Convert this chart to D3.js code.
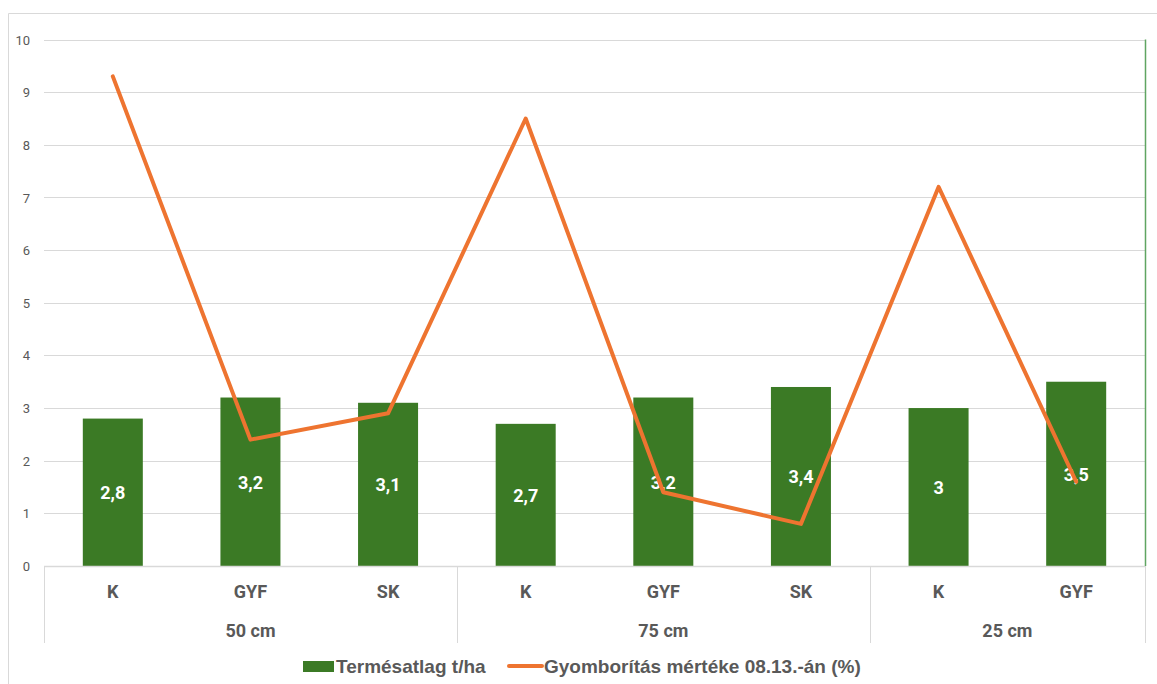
<!DOCTYPE html>
<html>
<head>
<meta charset="utf-8">
<script src="https://cdn.jsdelivr.net/npm/d3@7/dist/d3.min.js"></script>
<style>
  html, body { margin: 0; padding: 0; background: #fff; }
  svg { display: block; }
</style>
</head>
<body>
<svg id="chart" width="1157" height="684"></svg>
<script>
// Treatment categories along the x axis, grouped by row spacing
const categories = ["K", "GYF", "SK", "K", "GYF", "SK", "K", "GYF"];
const groups = ["50 cm", "75 cm", "25 cm"];
const groupSizes = [3, 3, 2];

// Series
const yieldValues = [2.8, 3.2, 3.1, 2.7, 3.2, 3.4, 3, 3.5];   // Termésatlag t/ha
const coverValues = [9.3, 2.4, 2.9, 8.5, 1.4, 0.8, 7.2, 1.6]; // Gyomborítás %
const yTicks = [0, 1, 2, 3, 4, 5, 6, 7, 8, 9, 10];

const seriesNames = ["Termésatlag t/ha", "Gyomborítás mértéke 08.13.-án (%)"];

const W = 1157, H = 684;
const plot = { left: 44, right: 1145, top: 39.5, bottom: 566 };

const barColor = "#3B7A25";
const lineColor = "#EE7430";
const gridColor = "#D9D9D9";
const textColor = "#595959";
const font = "Roboto, 'Liberation Sans', Arial, sans-serif";

const svg = d3.select("#chart");

// chart frame
svg.append("line").attr("x1", 8.5).attr("x2", W).attr("y1", 13.5).attr("y2", 13.5)
  .attr("stroke", gridColor).attr("stroke-width", 1);
svg.append("line").attr("x1", 8.5).attr("x2", 8.5).attr("y1", 13.5).attr("y2", H)
  .attr("stroke", gridColor).attr("stroke-width", 1);

const idx = categories.map((d, i) => i);
const x = d3.scaleBand().domain(idx).range([plot.left, plot.right])
  .paddingInner(0.564).paddingOuter(0.282);
const y = d3.scaleLinear().domain([0, 10]).range([plot.bottom, plot.top]);

// horizontal gridlines
svg.append("g").selectAll("line").data(yTicks.filter(d => d > 0)).join("line")
  .attr("x1", plot.left).attr("x2", plot.right)
  .attr("y1", d => Math.round(y(d)) + 0.5).attr("y2", d => Math.round(y(d)) + 0.5)
  .attr("stroke", gridColor).attr("stroke-width", 1);

// y axis labels
const yAxis = d3.axisLeft(y).tickValues(yTicks).tickSize(0).tickPadding(0)
  .tickFormat(d3.format("d"));
const yg = svg.append("g").attr("transform", `translate(${plot.left - 14},0)`).call(yAxis);
yg.select(".domain").remove();
yg.selectAll("text").attr("fill", textColor).attr("font-family", font)
  .attr("font-size", 13).attr("dy", "0.35em");

// bars
svg.append("g").selectAll("rect").data(yieldValues).join("rect")
  .attr("x", (d, i) => x(i))
  .attr("width", x.bandwidth())
  .attr("y", d => y(d))
  .attr("height", d => y(0) - y(d))
  .attr("fill", barColor);

// bar value labels
const commaFmt = v => String(v).replace(".", ",");
svg.append("g").selectAll("text").data(yieldValues).join("text")
  .attr("x", (d, i) => x(i) + x.bandwidth() / 2)
  .attr("y", d => (y(d) + y(0)) / 2 + 0.5)
  .attr("dy", "0.35em")
  .attr("text-anchor", "middle")
  .attr("fill", "#fff").attr("font-family", font).attr("font-weight", "bold")
  .attr("font-size", 18)
  .text(d => commaFmt(d));

// weed cover line
const line = d3.line()
  .x((d, i) => x(i) + x.bandwidth() / 2)
  .y(d => y(d));
svg.append("path").datum(coverValues)
  .attr("d", line)
  .attr("fill", "none")
  .attr("stroke", lineColor)
  .attr("stroke-width", 4)
  .attr("stroke-linejoin", "round")
  .attr("stroke-linecap", "round");

// zero baseline
svg.append("line").attr("x1", plot.left).attr("x2", plot.right)
  .attr("y1", Math.round(y(0)) + 0.5).attr("y2", Math.round(y(0)) + 0.5)
  .attr("stroke", gridColor).attr("stroke-width", 1.5);

// secondary axis line on the right
svg.append("line").attr("x1", plot.right + 0.5).attr("x2", plot.right + 0.5)
  .attr("y1", y(10)).attr("y2", y(0))
  .attr("stroke", "#5FA562").attr("stroke-width", 1.5);

// category axis: first row
const catY = 591.5, groupY = 630.5, sepBottom = 643;
svg.append("g").selectAll("text").data(categories).join("text")
  .attr("x", (d, i) => x(i) + x.bandwidth() / 2)
  .attr("y", catY).attr("dy", "0.35em")
  .attr("text-anchor", "middle")
  .attr("fill", textColor).attr("font-family", font).attr("font-weight", "bold")
  .attr("font-size", 18)
  .text(d => d);

// category axis: group row with separators
let start = 0;
const groupSpans = groups.map((g, k) => {
  const s = { name: g, from: start, to: start + groupSizes[k] };
  start += groupSizes[k];
  return s;
});
const edgeX = i => plot.left + (plot.right - plot.left) * i / categories.length;
const sepIdx = [0].concat(groupSpans.map(s => s.to));
svg.append("g").selectAll("line").data(sepIdx).join("line")
  .attr("x1", d => Math.round(edgeX(d)) + 0.5).attr("x2", d => Math.round(edgeX(d)) + 0.5)
  .attr("y1", plot.bottom).attr("y2", sepBottom)
  .attr("stroke", gridColor).attr("stroke-width", 1);
svg.append("g").selectAll("text").data(groupSpans).join("text")
  .attr("x", s => (edgeX(s.from) + edgeX(s.to)) / 2)
  .attr("y", groupY).attr("dy", "0.35em")
  .attr("text-anchor", "middle")
  .attr("fill", textColor).attr("font-family", font).attr("font-weight", "bold")
  .attr("font-size", 18)
  .text(s => s.name);

// legend
const legFont = "'Liberation Sans Narrow', 'Arial Narrow', 'Liberation Sans', sans-serif";
const legY = 666;
const leg = svg.append("g");
leg.append("rect").attr("x", 303).attr("y", legY - 5).attr("width", 31).attr("height", 11)
  .attr("fill", barColor);
leg.append("text").attr("x", 336).attr("y", legY).attr("dy", "0.35em")
  .attr("fill", textColor).attr("font-family", legFont).attr("font-weight", "bold")
  .attr("font-size", 19).text(seriesNames[0]);
leg.append("line").attr("x1", 509).attr("x2", 542).attr("y1", legY).attr("y2", legY)
  .attr("stroke", lineColor).attr("stroke-width", 4).attr("stroke-linecap", "round");
leg.append("text").attr("x", 544).attr("y", legY).attr("dy", "0.35em")
  .attr("fill", textColor).attr("font-family", legFont).attr("font-weight", "bold")
  .attr("font-size", 19).text(seriesNames[1]);
</script>
</body>
</html>
